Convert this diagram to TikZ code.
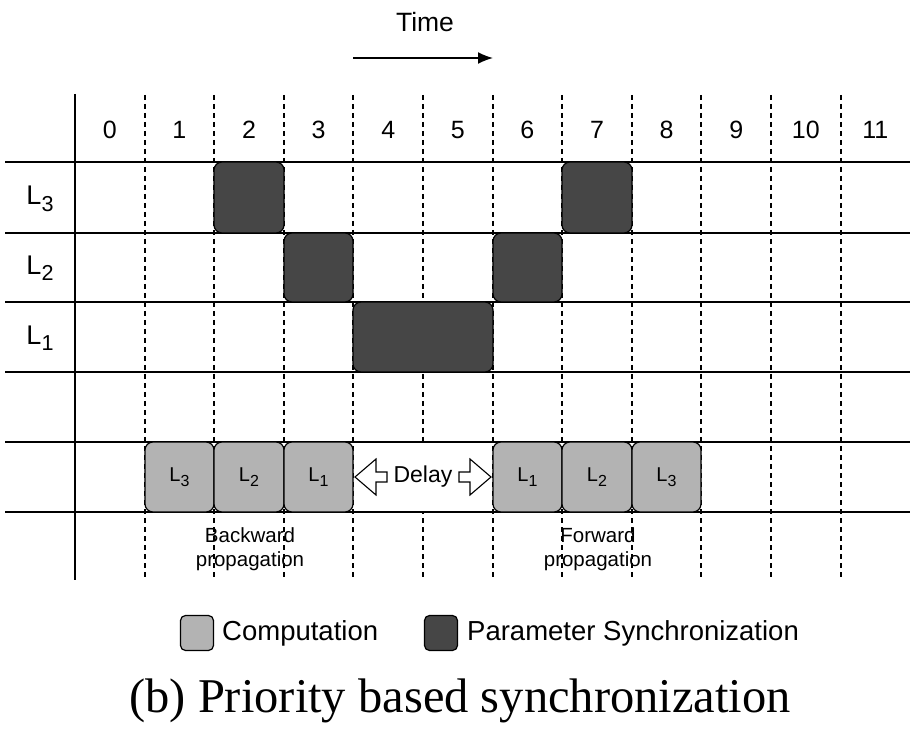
\documentclass[tikz,border=0pt]{standalone}
\usepackage{fontspec}
\setmainfont{Liberation Sans}
\newfontfamily\capfont{Liberation Serif}
\usetikzlibrary{positioning,arrows.meta}
\definecolor{syncgray}{HTML}{464646}
\definecolor{compgray}{HTML}{B3B3B3}
\tikzset{
  >=latex,
}
\tikzstyle{rowline}=[line width=1.2pt]
\tikzstyle{slotline}=[line width=1.4pt,dash pattern=on 5pt off 4pt]
\tikzstyle{sync}=[draw,line width=1.2pt,rounded corners=8pt,fill=syncgray,minimum width=69pt,minimum height=70pt,inner sep=0pt]
\tikzstyle{comp}=[sync,fill=compgray,font=\fontsize{20}{22}\selectfont]
\tikzstyle{hollow}=[draw,line width=1.1pt,fill=white,line join=miter]
\tikzstyle{every node}=[font=\fontsize{23}{26}\selectfont]
\newcommand{\Lay}[1]{L\raisebox{-.45ex}{\scalebox{.8}{#1}}}

\begin{document}
\begin{tikzpicture}[x=1pt,y=-1pt]
    \useasboundingbox (0,0) rectangle (922,738);
    % grid
    \foreach \r in {162,233,302,372,442,512}
      \draw[rowline] (5,\r)--(910,\r);
    \draw[rowline] (75,94)--(75,580);
    \foreach \i in {1,...,11}{
      \pgfmathsetmacro{\xs}{round(75+69.6*\i)}
      \draw[slotline] (\xs,95)--(\xs,580);
    }
    \foreach \i in {0,...,11}
      \node[font=\fontsize{25}{28}\selectfont] (n\i) at (75+69.6*\i+34.8,130) {\i};
    % layers
    \node[font=\fontsize{27}{30}\selectfont] (l3) at (40,199) {\Lay{3}};
    \node[font=\fontsize{27}{30}\selectfont] (l2) at (40,268) {\Lay{2}};
    \node[font=\fontsize{27}{30}\selectfont] (l1) at (40,338) {\Lay{1}};
    % parameter synchronization
    \node[sync,minimum width=70pt,minimum height=71pt] (s3a) at (249,197.5) {};
    \node[sync,minimum height=69pt] (s2a) at (318.5,267.5) {};
    \node[sync,minimum width=140pt] (s1) at (423,337) {};
    \node[sync,minimum height=69pt] (s2b) at (527.5,267.5) {};
    \node[sync,minimum width=70pt,minimum height=71pt] (s3b) at (597,197.5) {};
    % computation
    \node[comp] (c3a) at (179.5,477) {\Lay{3}};
    \node[comp,minimum width=70pt] (c2a) at (249,477) {\Lay{2}};
    \node[comp] (c1a) at (318.5,477) {\Lay{1}};
    \node[fill=white,minimum width=137pt,minimum height=68pt,inner sep=0pt] (delay) at (423,477) {Delay};
    \node[comp] (c1b) at (527.5,477) {\Lay{1}};
    \node[comp,minimum width=70pt] (c2b) at (597,477) {\Lay{2}};
    \node[comp] (c3b) at (666.5,477) {\Lay{3}};
    \draw[hollow] (355,477)--(376,459)--(376,472)--(387,472)--(387,482)--(376,482)--(376,495)--cycle;
    \draw[hollow] (491,477)--(470,459)--(470,472)--(459,472)--(459,482)--(470,482)--(470,495)--cycle;
    \node[align=center,font=\fontsize{20.5}{23.5}\selectfont] (bw) at (250,549) {Backward\\propagation};
    \node[align=center,font=\fontsize{20.5}{23.5}\selectfont] (fw) at (598,549) {Forward\\propagation};
    % time
    \node[font=\fontsize{26.5}{28}\selectfont] (time) at (425,22) {Time};
    \draw[-{Latex[length=15pt,width=12pt]},line width=1.6pt] (353,58)--(493,58);
    % legend
    \node[sync,fill=compgray,rounded corners=5pt,minimum width=33pt,minimum height=35pt] (kc) at (197,633) {};
    \node[anchor=west,font=\fontsize{27.5}{30}\selectfont,inner sep=0pt] (kct) at (222,633) {Computation};
    \node[sync,rounded corners=5pt,minimum width=33pt,minimum height=35pt] (ks) at (441,633) {};
    \node[anchor=west,font=\fontsize{27.5}{30}\selectfont,inner sep=0pt] (kst) at (467,633) {Parameter Synchronization};
    % caption
    \node[font=\capfont\fontsize{48.5}{52}\selectfont] (cap) at (460,701) {(b) Priority based synchronization};
  \end{tikzpicture}
\end{document}
